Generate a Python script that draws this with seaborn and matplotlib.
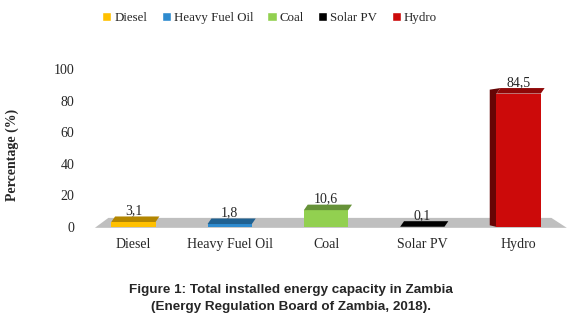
import numpy as np
import pandas as pd
import seaborn as sns
import matplotlib.pyplot as plt
from matplotlib.patches import Polygon, Patch
from matplotlib.colors import to_rgb

# data
sources = ["Diesel", "Heavy Fuel Oil", "Coal", "Solar PV", "Hydro"]
share = [3.1, 1.8, 10.6, 0.1, 84.5]
colors = ["#FFC000", "#2E8BCF", "#92D050", "#000000", "#CC0A0A"]
yticks = [0, 20, 40, 60, 80, 100]

df = pd.DataFrame({"source": sources, "share": share})

sns.set_style("white")
plt.rcParams["font.family"] = ["Liberation Serif", "DejaVu Serif"]

fig = plt.figure(figsize=(5.76, 3.2), dpi=100)
ax = fig.add_axes([0.148, 0.291, 0.836, 0.493])

sns.barplot(data=df, x="source", y="share", hue="source", palette=colors,
            legend=False, width=0.46, saturation=1, ax=ax, zorder=3, linewidth=0)

# grey floor
floor = Polygon([(-0.40, -0.6), (-0.26, 5.7), (4.34, 5.7), (4.5, -0.6)],
                closed=True, color="#BFBFBF", zorder=1, clip_on=False, lw=0)
ax.add_patch(floor)

# fake 3D top faces
dx, dy = 0.04, 3.5
for p, c in zip(ax.patches[:len(sources)], colors):
    x0, w, h = p.get_x(), p.get_width(), p.get_height()
    dark = tuple(v * 0.7 for v in to_rgb(c))
    top = Polygon([(x0, h), (x0 + w, h), (x0 + w + dx, h + dy), (x0 + dx, h + dy)],
                  closed=True, color=dark, zorder=4, lw=0, clip_on=False)
    ax.add_patch(top)
    if h > 20:
        side = Polygon([(x0, 0), (x0, h), (x0 + dx, h + dy), (x0 - 0.07, h + dy - 1), (x0 - 0.07, 1)],
                       closed=True, color=tuple(v * 0.5 for v in to_rgb(c)), zorder=2, lw=0)
        ax.add_patch(side)
    ax.text(x0 + w / 2, h + dy - 0.5, f"{h:.1f}".replace(".", ","), ha="center", va="bottom",
            fontsize=10, zorder=5)

ax.set_ylim(0, 100)
ax.set_xlim(-0.5, 4.5)
ax.set_yticks(yticks)
ax.set_yticklabels([str(t) for t in yticks], fontsize=10)
ax.tick_params(axis="x", labelsize=10, pad=8, length=0)
ax.tick_params(axis="y", pad=8, length=0)
ax.set_xlabel("")
ax.set_ylabel("")
sns.despine(ax=ax, left=True, bottom=True)

fig.text(0.022, 0.515, "Percentage (%)", rotation=90, ha="center", va="center",
         fontsize=10, fontweight="bold")

handles = [Patch(facecolor=c, label=s) for s, c in zip(sources, colors)]
leg = fig.legend(handles=handles, loc="center", bbox_to_anchor=(0.468, 0.945), ncol=5,
                 frameon=False, fontsize=9.3,
                 handlelength=0.7, handleheight=0.7, handletextpad=0.25, columnspacing=1.1)
for t in leg.get_texts():
    t.set_fontfamily(["Liberation Serif", "DejaVu Serif"])

fig.text(0.505, 0.095, "Figure 1: Total installed energy capacity in Zambia",
         ha="center", va="center", fontsize=9.7, fontweight="bold", family="Liberation Sans")
fig.text(0.505, 0.042, "(Energy Regulation Board of Zambia, 2018).",
         ha="center", va="center", fontsize=9.7, fontweight="bold", family="Liberation Sans")

fig.savefig("out.png", dpi=100)
